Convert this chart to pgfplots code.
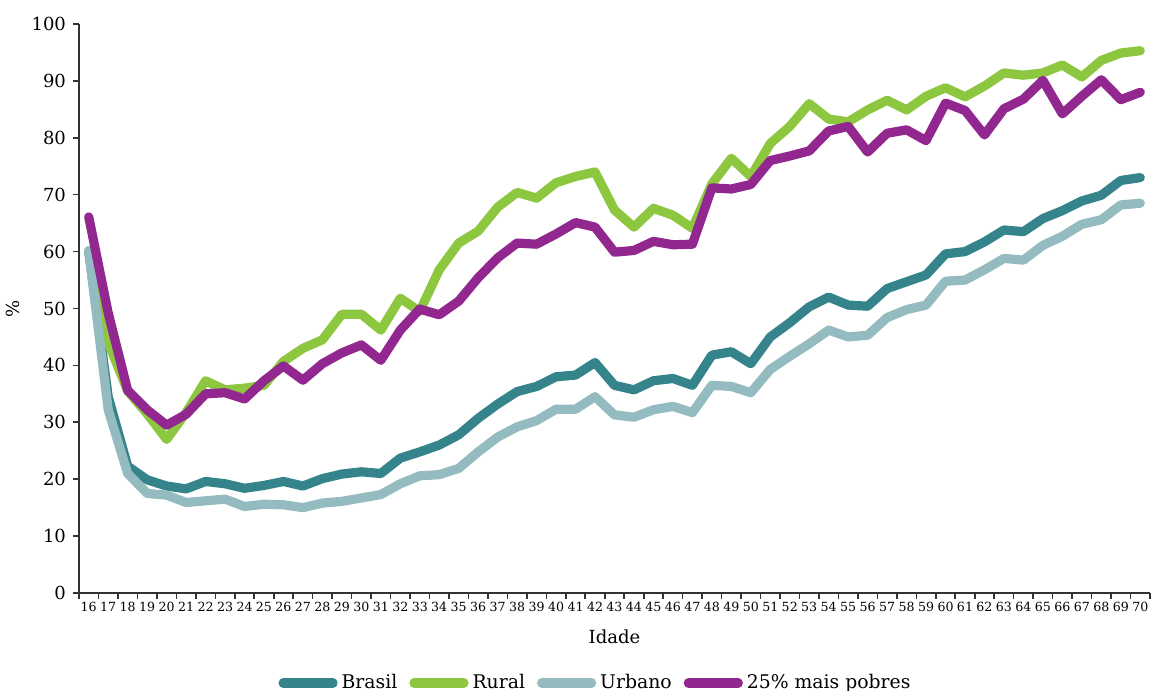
\documentclass[border=0pt]{standalone}
\usepackage{fontspec}
\setmainfont{DejaVu Serif}
\usepackage{pgfplots}
\usepackage{pgfplotstable}
\pgfplotsset{compat=1.18}
\definecolor{cBrasil}{RGB}{53,132,140}
\definecolor{cRural}{RGB}{141,198,63}
\definecolor{cUrbano}{RGB}{147,187,192}
\definecolor{cPobres}{RGB}{146,39,143}
\definecolor{axisgray}{RGB}{50,50,50}

% idade, Brasil, Rural, Urbano, 25% mais pobres
\pgfplotstableread{
idade brasil rural urbano pobres
16 60.0 60.0 60.2 66.1
17 34.5 44.0 32.2 49.2
18 22.3 35.5 21.0 35.6
19 19.9 31.5 17.5 32.2
20 18.8 27.0 17.2 29.5
21 18.3 31.7 15.9 31.4
22 19.6 37.3 16.2 35.0
23 19.2 35.7 16.5 35.2
24 18.4 36.0 15.2 34.1
25 18.9 36.5 15.6 37.3
26 19.6 40.7 15.5 39.9
27 18.8 43.0 15.0 37.4
28 20.1 44.5 15.8 40.3
29 20.9 49.0 16.1 42.2
30 21.3 49.0 16.7 43.6
31 21.0 46.2 17.3 40.9
32 23.7 51.8 19.2 46.2
33 24.8 49.5 20.6 49.9
34 26.0 56.8 20.8 48.9
35 27.8 61.5 21.9 51.3
36 30.7 63.6 24.8 55.4
37 33.2 67.8 27.4 58.9
38 35.4 70.4 29.2 61.5
39 36.3 69.4 30.3 61.3
40 38.0 72.1 32.3 63.1
41 38.3 73.2 32.3 65.1
42 40.5 74.0 34.5 64.3
43 36.5 67.3 31.3 59.9
44 35.7 64.3 30.9 60.2
45 37.3 67.6 32.2 61.8
46 37.7 66.4 32.8 61.2
47 36.5 64.1 31.7 61.3
48 41.8 71.9 36.5 71.2
49 42.4 76.4 36.3 71.0
50 40.3 73.2 35.2 71.8
51 45.0 79.0 39.3 76.0
52 47.5 82.0 41.6 76.8
53 50.3 86.0 43.8 77.7
54 52.0 83.3 46.2 81.2
55 50.6 82.8 45.0 82.0
56 50.4 84.9 45.3 77.5
57 53.5 86.6 48.4 80.8
58 54.7 84.9 49.8 81.4
59 55.9 87.3 50.6 79.5
60 59.6 88.8 54.8 86.1
61 60.0 87.2 55.0 84.8
62 61.7 89.1 56.8 80.5
63 63.8 91.4 58.8 85.1
64 63.5 91.0 58.5 86.8
65 65.8 91.4 61.1 90.1
66 67.2 92.8 62.7 84.2
67 68.9 90.7 64.8 87.3
68 69.9 93.6 65.6 90.2
69 72.5 94.9 68.2 86.7
70 73.0 95.3 68.5 88.0
}\dados

\begin{document}
\begin{tikzpicture}
\begin{axis}[
    scale only axis,
    width=535.5pt,
    height=284.5pt,
    xmin=15.5, xmax=70.5,
    ymin=0, ymax=100,
    axis lines=left,
    axis line style={axisgray, line width=1pt, -},
    tick style={axisgray, line width=0.8pt},
    tick align=outside,
    major tick length=3pt,
    xtick={15.5,16.5,...,70.5},
    xticklabels={},
    extra x ticks={16,17,...,70},
    extra x tick style={major tick length=0pt, xticklabel style={font=\fontsize{6.3}{7}\selectfont, yshift=-1pt}},
    ytick={0,10,...,100},
    /pgf/number format/assume math mode=true,
    yticklabel style={font=\fontsize{9}{10}\selectfont},
    xlabel={Idade},
    ylabel={\%},
    label style={font=\fontsize{9}{10}\selectfont},
    xlabel style={yshift=1pt},
    ylabel style={yshift=-1pt},
    clip=false,
    legend columns=-1,
    legend style={
        at={(0.5,0)}, anchor=center, yshift=-45pt, xshift=-9pt,
        draw=none, font=\fontsize{9.4}{10}\selectfont,
        /tikz/every even column/.append style={column sep=4pt},
    },
    legend image code/.code={
        \draw[line width=4.6pt, line cap=round, #1] (2.3pt,0pt) -- (21pt,0pt);
        \path (0pt,0pt) -- (25pt,0pt);
    },
    every axis plot/.append style={line width=4.6pt, line join=round, line cap=round, no markers},
]
\addplot[cBrasil] table[x=idade, y=brasil] {\dados};
\addplot[cRural] table[x=idade, y=rural] {\dados};
\addplot[cUrbano] table[x=idade, y=urbano] {\dados};
\addplot[cPobres] table[x=idade, y=pobres] {\dados};
\legend{Brasil, Rural, Urbano, 25\% mais pobres}
\coordinate (bl) at (rel axis cs:0,0);
\coordinate (tr) at (rel axis cs:1,1);
\end{axis}
\pgfresetboundingbox
\path ([shift={(-39.5pt,-49pt)}]bl) rectangle ([shift={(1pt,12pt)}]tr);
\end{tikzpicture}
\end{document}
